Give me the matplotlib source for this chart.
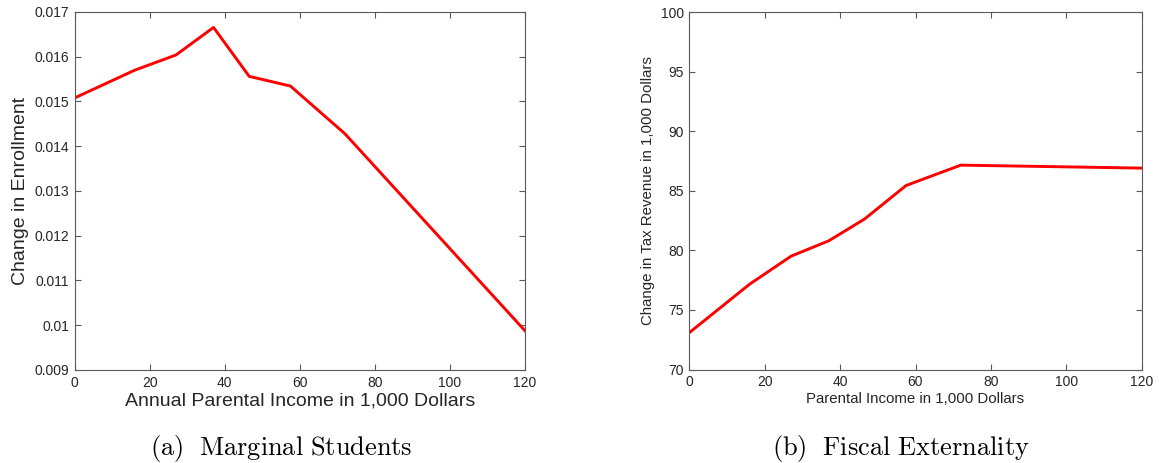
import matplotlib
matplotlib.use("Agg")
import matplotlib.pyplot as plt

# Data
income = [0, 16, 27, 37, 46.5, 57.5, 72, 120]
enrollment = [0.01508, 0.01570, 0.01604, 0.016655, 0.015562, 0.015345, 0.01428, 0.009877]
tax_revenue = [73.09, 77.16, 79.51, 80.80, 82.63, 85.44, 87.15, 86.90]

xticks = [0, 20, 40, 60, 80, 100, 120]
yticks_left = [0.009, 0.01, 0.011, 0.012, 0.013, 0.014, 0.015, 0.016, 0.017]
yticklabels_left = ["0.009", "0.01", "0.011", "0.012", "0.013", "0.014", "0.015", "0.016", "0.017"]
yticks_right = [70, 75, 80, 85, 90, 95, 100]

plt.rcParams["font.family"] = ["Liberation Sans", "DejaVu Sans"]
plt.rcParams["mathtext.fontset"] = "cm"

W, H = 1159, 463
fig = plt.figure(figsize=(W / 100, H / 100), dpi=100)

gray = "#262626"
axcol = "#5a5a5a"

def style(ax, fs):
    for s in ax.spines.values():
        s.set_color(axcol)
        s.set_linewidth(0.8)
    ax.tick_params(direction="in", top=True, right=True, length=4, width=0.8,
                   color=axcol, labelcolor=gray, labelsize=fs, pad=4)

def box(l, t, r, b):
    return [l / W, 1 - b / H, (r - l) / W, (b - t) / H]

ax1 = fig.add_axes(box(74.7, 12, 525, 370))
ax1.plot(income, enrollment, color="red", lw=2.1)
ax1.set_xlim(0, 120)
ax1.set_ylim(0.009, 0.017)
ax1.set_xticks(xticks)
ax1.set_yticks(yticks_left)
ax1.set_yticklabels(yticklabels_left)
style(ax1, 10)
ax1.set_xlabel("Annual Parental Income in 1,000 Dollars", fontsize=14, color=gray, labelpad=2)
ax1.set_ylabel("Change in Enrollment", fontsize=14, color=gray, labelpad=4)

ax2 = fig.add_axes(box(689.3, 12, 1141.7, 369.5))
ax2.plot(income, tax_revenue, color="red", lw=2.1)
ax2.set_xlim(0, 120)
ax2.set_ylim(70, 100)
ax2.set_xticks(xticks)
ax2.set_yticks(yticks_right)
style(ax2, 10)
ax2.set_xlabel("Parental Income in 1,000 Dollars", fontsize=10.8, color=gray, labelpad=2)
ax2.set_ylabel("Change in Tax Revenue in 1,000 Dollars", fontsize=10.8, color=gray, labelpad=4)

fig.text(281.5 / W, 1 - 448 / H, r"$\mathrm{(a)\ \ Marginal\ Students}$", ha="center", va="center",
         fontsize=19, color="black")
fig.text(901 / W, 1 - 448 / H, r"$\mathrm{(b)\ \ Fiscal\ Externality}$", ha="center", va="center",
         fontsize=19, color="black")

fig.savefig("out.png", dpi=100)
